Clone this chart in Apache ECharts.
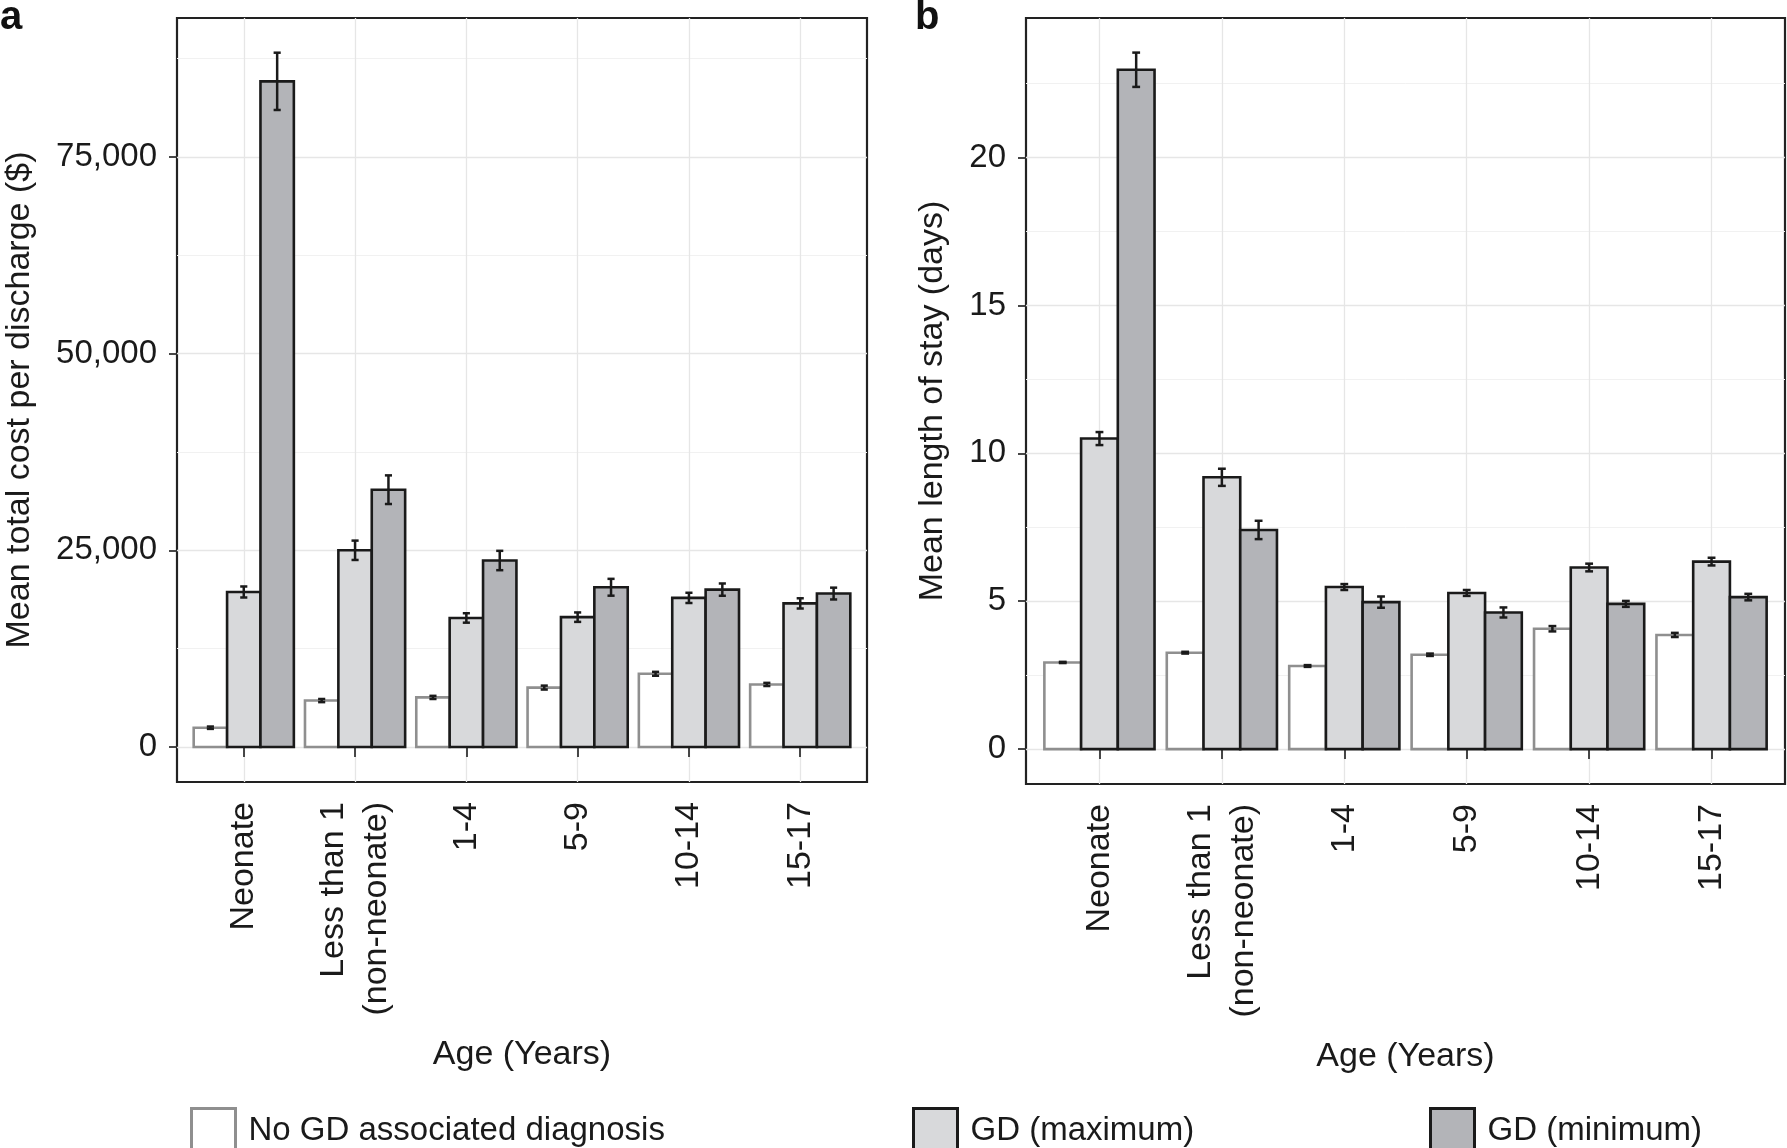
<!DOCTYPE html>
<html lang="en">
<head>
    <meta charset="UTF-8">
    <title>Cost and length of stay by age</title>
    <script src="https://cdn.jsdelivr.net/npm/echarts@6/dist/echarts.min.js"></script>
    <style>
        html, body {
            margin: 0;
            padding: 0;
            background: #ffffff;
        }
        #chart {
            width: 1787px;
            height: 1148px;
        }
    </style>
</head>
<body>
<div id="chart"></div>
<script>
    // categories
    var ageGroups = ['Neonate', 'Less than 1\n(non-neonate)', '1-4', '5-9', '10-14', '15-17'];
    var groupNames = ['No GD associated diagnosis', 'GD (maximum)', 'GD (minimum)'];

    // panel a: mean total cost per discharge ($), with half-width of error bar
    var costNoGD = [2450, 5900, 6300, 7550, 9300, 7950];
    var costNoGDErr = [150, 200, 200, 250, 250, 200];
    var costGDMax = [19700, 25000, 16400, 16500, 18950, 18250];
    var costGDMaxErr = [700, 1230, 600, 600, 650, 650];
    var costGDMin = [84600, 32700, 23700, 20300, 20000, 19500];
    var costGDMinErr = [3640, 1820, 1230, 1070, 780, 750];

    // panel b: mean length of stay (days)
    var losNoGD = [2.93, 3.26, 2.81, 3.19, 4.07, 3.86];
    var losNoGDErr = [0.02, 0.03, 0.03, 0.04, 0.09, 0.07];
    var losGDMax = [10.5, 9.19, 5.48, 5.28, 6.14, 6.34];
    var losGDMaxErr = [0.22, 0.29, 0.1, 0.1, 0.13, 0.13];
    var losGDMin = [22.97, 7.41, 4.97, 4.62, 4.91, 5.14];
    var losGDMinErr = [0.58, 0.31, 0.19, 0.17, 0.1, 0.11];

    // tick labels
    var costTicks = [0, 25000, 50000, 75000];
    var costMinorTicks = [12500, 37500, 62500, 87500];
    var losTicks = [0, 5, 10, 15, 20];
    var losMinorTicks = [2.5, 7.5, 12.5, 17.5, 22.5];
    var catTicks = [1, 2, 3, 4, 5, 6];

    var FONT = "'Liberation Sans', Arial, Helvetica, sans-serif";
    var TEXT = '#1a1a1a';
    var BAR_W = 0.3;   // ggplot dodge: 0.9 / 3
    var CAP_W = 0.064;
    var offsets = [-0.3, 0, 0.3];
    var fills = ['#ffffff', '#d8d9db', '#b3b4b8'];
    var strokes = ['#8f8f8f', '#1a1a1a', '#1a1a1a'];

    function toData(vals, errs, k) {
        return vals.map(function (v, i) {
            return [i + 1 + offsets[k], v, v - errs[i], v + errs[i]];
        });
    }

    function makeRenderer(k) {
        return function (params, api) {
            var x = api.value(0), v = api.value(1), lo = api.value(2), hi = api.value(3);
            var tl = api.coord([x - BAR_W / 2, v]);
            var br = api.coord([x + BAR_W / 2, 0]);
            var top = api.coord([x, hi]);
            var bot = api.coord([x, lo]);
            var cl = api.coord([x - CAP_W / 2, hi])[0];
            var cr = api.coord([x + CAP_W / 2, hi])[0];
            var eb = {stroke: '#1a1a1a', lineWidth: 2.5};
            return {
                type: 'group',
                children: [
                    {type: 'rect', shape: {x: tl[0], y: tl[1], width: br[0] - tl[0], height: br[1] - tl[1]},
                        style: {fill: fills[k], stroke: strokes[k], lineWidth: 2.6}},
                    {type: 'line', shape: {x1: top[0], y1: top[1], x2: bot[0], y2: bot[1]}, style: eb},
                    {type: 'line', shape: {x1: cl, y1: top[1], x2: cr, y2: top[1]}, style: eb},
                    {type: 'line', shape: {x1: cl, y1: bot[1], x2: cr, y2: bot[1]}, style: eb}
                ]
            };
        };
    }

    function barSeries(k, vals, errs, xi, yi) {
        return {
            name: groupNames[k],
            type: 'custom',
            xAxisIndex: xi,
            yAxisIndex: yi,
            renderItem: makeRenderer(k),
            itemStyle: {color: fills[k], borderColor: strokes[k], borderWidth: 2.6},
            encode: {x: 0, y: [1, 2, 3]},
            clip: false,
            silent: true,
            data: toData(vals, errs, k)
        };
    }

    function catAxis(gi) {
        return {
            type: 'value',
            gridIndex: gi,
            min: 0.4,
            max: 6.6,
            name: 'Age (Years)',
            nameLocation: 'middle',
            nameGap: 256,
            nameTextStyle: {fontFamily: FONT, fontSize: 34, color: TEXT},
            axisLine: {show: false},
            axisTick: {show: true, customValues: catTicks, length: 10, lineStyle: {color: '#333', width: 1.8}},
            axisLabel: {
                customValues: catTicks,
                rotate: 90,
                margin: 20,
                fontFamily: FONT,
                fontSize: 34,
                lineHeight: 43,
                color: TEXT,
                formatter: function (v) { return ageGroups[Math.round(v) - 1]; }
            },
            splitLine: {show: true, lineStyle: {color: '#e6e6e6', width: 1.3}}
        };
    }

    function valAxis(gi, min, max, ticks, title, gap, fmt) {
        return {
            type: 'value',
            gridIndex: gi,
            min: min,
            max: max,
            name: title,
            nameLocation: 'middle',
            nameRotate: 90,
            nameGap: gap,
            nameTextStyle: {fontFamily: FONT, fontSize: 34, color: TEXT},
            axisLine: {show: false},
            axisTick: {show: true, customValues: ticks, length: 8, lineStyle: {color: '#333', width: 1.8}},
            axisLabel: {customValues: ticks, margin: 20, fontFamily: FONT, fontSize: 33, color: TEXT, formatter: fmt},
            splitLine: {show: true, lineStyle: {color: '#e6e6e6', width: 1.3}}
        };
    }

    function minorAxis(gi, min, max, ticks) {
        return {
            type: 'value',
            gridIndex: gi,
            min: min,
            max: max,
            position: 'left',
            axisLine: {show: false},
            axisTick: {show: false, customValues: ticks},
            axisLabel: {show: false, customValues: ticks},
            splitLine: {show: true, lineStyle: {color: '#f1f1f1', width: 1}}
        };
    }

    function legendItem(k, left) {
        return {
            left: left,
            top: 1102,
            orient: 'horizontal',
            selectedMode: false,
            itemWidth: 44,
            itemHeight: 44,
            textStyle: {fontFamily: FONT, fontSize: 33, color: TEXT, padding: [0, 0, 0, 8]},
            data: [{
                name: groupNames[k],
                icon: 'rect',
                itemStyle: {color: fills[k], borderColor: strokes[k], borderWidth: 3}
            }]
        };
    }

    var chart = echarts.init(document.getElementById('chart'));

    var option = {
        animation: false,
        backgroundColor: '#ffffff',
        title: [
            {text: 'a', left: 0, top: -2, padding: 0, textStyle: {fontFamily: FONT, fontSize: 40, fontWeight: 'bold', color: '#111'}},
            {text: 'b', left: 915, top: -2, padding: 0, textStyle: {fontFamily: FONT, fontSize: 40, fontWeight: 'bold', color: '#111'}}
        ],
        grid: [
            {left: 177, top: 18, width: 690, height: 764, show: true, borderColor: '#222222', borderWidth: 2.2, backgroundColor: 'transparent'},
            {left: 1026, top: 18, width: 759, height: 766, show: true, borderColor: '#222222', borderWidth: 2.2, backgroundColor: 'transparent'}
        ],
        legend: [legendItem(0, 185), legendItem(1, 907), legendItem(2, 1424)],
        xAxis: [catAxis(0), catAxis(1)],
        yAxis: [
            valAxis(0, -4450, 92650, costTicks, 'Mean total cost per discharge ($)', 140,
                function (v) { return v.toLocaleString('en-US'); }),
            minorAxis(0, -4450, 92650, costMinorTicks),
            valAxis(1, -1.18, 24.72, losTicks, 'Mean length of stay (days)', 76,
                function (v) { return String(v); }),
            minorAxis(1, -1.18, 24.72, losMinorTicks)
        ],
        series: [
            barSeries(0, costNoGD, costNoGDErr, 0, 0),
            barSeries(1, costGDMax, costGDMaxErr, 0, 0),
            barSeries(2, costGDMin, costGDMinErr, 0, 0),
            barSeries(0, losNoGD, losNoGDErr, 1, 2),
            barSeries(1, losGDMax, losGDMaxErr, 1, 2),
            barSeries(2, losGDMin, losGDMinErr, 1, 2)
        ]
    };

    chart.setOption(option);
</script>
</body>
</html>
